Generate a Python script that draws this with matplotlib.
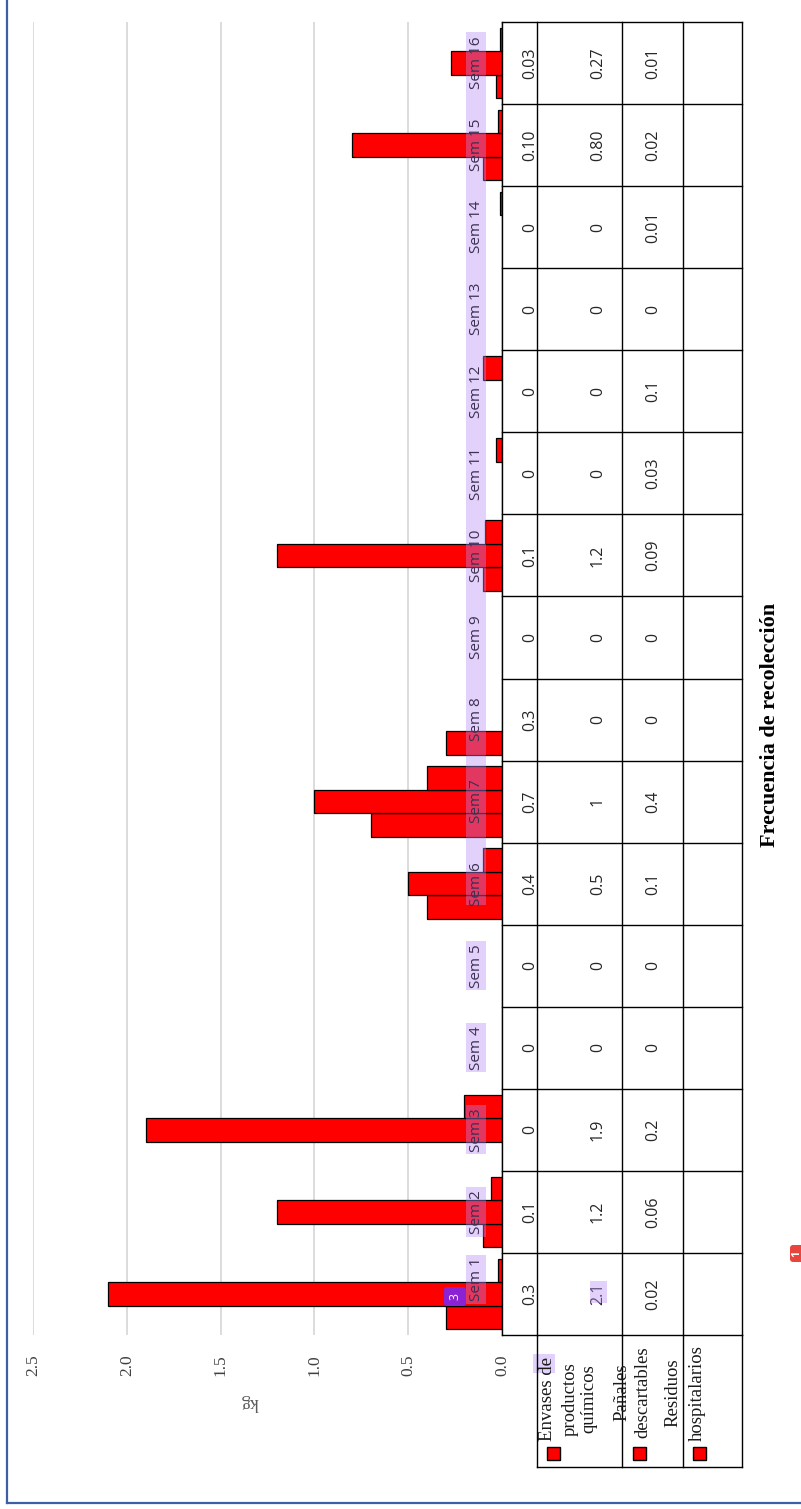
import matplotlib
matplotlib.use('Agg')
import matplotlib.pyplot as plt
import matplotlib.transforms as mtransforms
from matplotlib.patches import Rectangle, FancyBboxPatch
import numpy as np

# ---------------- data ----------------
weeks = ['Sem 1', 'Sem 2', 'Sem 3', 'Sem 4', 'Sem 5', 'Sem 6', 'Sem 7', 'Sem 8',
         'Sem 9', 'Sem 10', 'Sem 11', 'Sem 12', 'Sem 13', 'Sem 14', 'Sem 15', 'Sem 16']
envases_txt = ['0.3', '0.1', '0', '0', '0', '0.4', '0.7', '0.3',
               '0', '0.1', '0', '0', '0', '0', '0.10', '0.03']
panales_txt = ['2.1', '1.2', '1.9', '0', '0', '0.5', '1', '0',
               '0', '1.2', '0', '0', '0', '0', '0.80', '0.27']
residuos_txt = ['0.02', '0.06', '0.2', '0', '0', '0.1', '0.4', '0',
                '0', '0.09', '0.03', '0.1', '0', '0.01', '0.02', '0.01']
series_names = ['Envases de\nproductos\nquímicos', 'Pañales\ndescartables',
                'Residuos\nhospitalarios']
value_ticks = [0.0, 0.5, 1.0, 1.5, 2.0, 2.5]
value_axis_title = 'kg'
category_axis_title = 'Frecuencia de recolección'

envases = [float(s) for s in envases_txt]
panales = [float(s) for s in panales_txt]
residuos = [float(s) for s in residuos_txt]

# ---------------- layout ----------------
W, H = 801, 1509
SERIF = ['Liberation Serif', 'DejaVu Serif']
SANS = ['Open Sans', 'DejaVu Sans']
BAR_RED = '#ff0000'
HL_COLOR = (0.72, 0.55, 0.96)
HL_ALPHA = 0.4


def fx(px):
    return px / W


def fy(py):
    return 1 - py / H


fig = plt.figure(figsize=(W / 100, H / 100), dpi=100)
fig.patch.set_facecolor('white')

AX_L, AX_R, AX_T, AX_B = 33, 502, 22, 1335
ax = fig.add_axes([fx(AX_L), fy(AX_B), fx(AX_R) - fx(AX_L), fy(AX_T) - fy(AX_B)])
n = len(weeks)
pos = np.arange(1, n + 1)
ax.set_ylim(0.5, n + 0.5)
ax.set_xlim(max(value_ticks), min(value_ticks))

bh = 0.286
for k, vals in enumerate([envases, panales, residuos]):
    lws = [0.9 if v > 0 else 0 for v in vals]
    ax.barh(pos + (k - 1) * bh, vals, height=bh, color=BAR_RED,
            edgecolor='black', linewidth=lws, zorder=2)

ax.set_xticks(value_ticks)
ax.set_xticklabels([f'{v:.1f}' for v in value_ticks], rotation=90,
                   family=SERIF, fontsize=12.5, color='#404040')
ax.tick_params(axis='x', length=0, pad=14)
ax.set_yticks([])
ax.xaxis.grid(True, color='#d9d9d9', lw=1.3, zorder=0)
ax.set_axisbelow(True)
for s in ax.spines.values():
    s.set_visible(False)
ax.set_xlabel(value_axis_title, rotation=180, family=SERIF, fontsize=13,
              color='#595959')
ax.xaxis.set_label_coords((250 - AX_L) / (AX_R - AX_L), -(1403 - AX_B) / (AX_B - AX_T))
ax.xaxis.label.set_va('center')

# category labels with highlight
trans = mtransforms.blended_transform_factory(ax.transAxes, ax.transData)
lab_x = (476 - AX_L) / (AX_R - AX_L)
hl_x0 = (466 - AX_L) / (AX_R - AX_L)
hl_x1 = (486 - AX_L) / (AX_R - AX_L)
for i, (p, w) in enumerate(zip(pos, weeks)):
    yl = p + (0.18 if i == 0 else 0.0)
    if i < 5:
        ax.add_patch(Rectangle((hl_x0, yl - 0.3), hl_x1 - hl_x0, 0.6, transform=trans,
                               facecolor=HL_COLOR, alpha=HL_ALPHA, lw=0, zorder=4))
    ax.text(lab_x, yl, w, rotation=90, ha='center', va='center', transform=trans,
            family=SANS, fontsize=11, color='#3d3050', zorder=6)
ax.add_patch(Rectangle((hl_x0, pos[5] - 0.26), hl_x1 - hl_x0,
                       (pos[-1] + 0.38) - (pos[5] - 0.26), transform=trans,
                       facecolor=HL_COLOR, alpha=HL_ALPHA, lw=0, zorder=4))

# ---------------- data table ----------------
TB_R = 742
tab = fig.add_axes([fx(AX_R), fy(AX_B), fx(TB_R) - fx(AX_R), fy(AX_T) - fy(AX_B)])
tab.set_xlim(AX_R, TB_R)
tab.set_ylim(0.5, n + 0.5)
tab.axis('off')
for b in np.arange(0.5, n + 1.0, 1.0):
    tab.plot([AX_R, TB_R], [b, b], color='black', lw=1.0, clip_on=False)
for xv in [AX_R, 537, 622, 683, TB_R]:
    tab.plot([xv, xv], [0.5, n + 0.5], color='black', lw=1.0, clip_on=False)
for row_x, txts in zip([530, 598, 653], [envases_txt, panales_txt, residuos_txt]):
    for p, t in zip(pos, txts):
        tab.text(row_x, p, t, rotation=90, ha='center', va='center',
                 family=SANS, fontsize=11.5, color='#262626')

# ---------------- overlay: legend, title, border, badges ----------------
ov = fig.add_axes([0, 0, 1, 1], zorder=10)
ov.set_xlim(0, W)
ov.set_ylim(H, 0)
ov.axis('off')
ov.patch.set_alpha(0)

LG_T, LG_B = 1335, 1467
for xv in [537, 622, 683, TB_R]:
    ov.plot([xv, xv], [LG_T, LG_B], color='black', lw=1.0)
ov.plot([537, TB_R], [LG_B, LG_B], color='black', lw=1.0)

legend_line_x = [[547, 570, 589], [622, 643], [673, 697]]
legend_center_y = [1399, 1392, 1393]
legend_marker_x = [553, 639, 699]
for name, xs, yc, mx in zip(series_names, legend_line_x, legend_center_y, legend_marker_x):
    for line, lx in zip(name.split('\n'), xs):
        ov.text(lx, yc, line, rotation=90, ha='center', va='center',
                family=SERIF, fontsize=13.5, color='#1a1a1a')
    ov.add_patch(Rectangle((mx - 6.5, 1453 - 6.5), 13, 13, facecolor=BAR_RED,
                           edgecolor='black', lw=1.0))

# highlight on "de" and "2.1"
ov.add_patch(Rectangle((533, 1354), 22, 19, facecolor=HL_COLOR, alpha=HL_ALPHA, lw=0))
ov.add_patch(Rectangle((590, 1281), 17, 22, facecolor=HL_COLOR, alpha=HL_ALPHA, lw=0))

# title
ov.text(770, 725, category_axis_title, rotation=90, ha='center', va='center',
        family=SERIF, fontsize=16, fontweight='bold', color='black')

# border
ov.plot([7, 7], [0, 1503], color='#3e5ea8', lw=1.6)
ov.plot([7, W], [1503, 1503], color='#3e5ea8', lw=1.6)

# badges
ov.add_patch(FancyBboxPatch((444, 1287), 22, 19, boxstyle='round,pad=0,rounding_size=3',
                            facecolor='#8b22d4', lw=0))
ov.text(455, 1296.5, '3', rotation=90, ha='center', va='center', family=SANS,
        fontsize=9, color='white')
ov.add_patch(FancyBboxPatch((790, 1245), 16, 17, boxstyle='round,pad=0,rounding_size=3',
                            facecolor='#e8453c', lw=0, clip_on=False))
ov.text(797, 1253.5, '1', rotation=90, ha='center', va='center', family=SANS,
        fontsize=8, color='white', fontweight='bold')

fig.savefig('out.png', dpi=100)
